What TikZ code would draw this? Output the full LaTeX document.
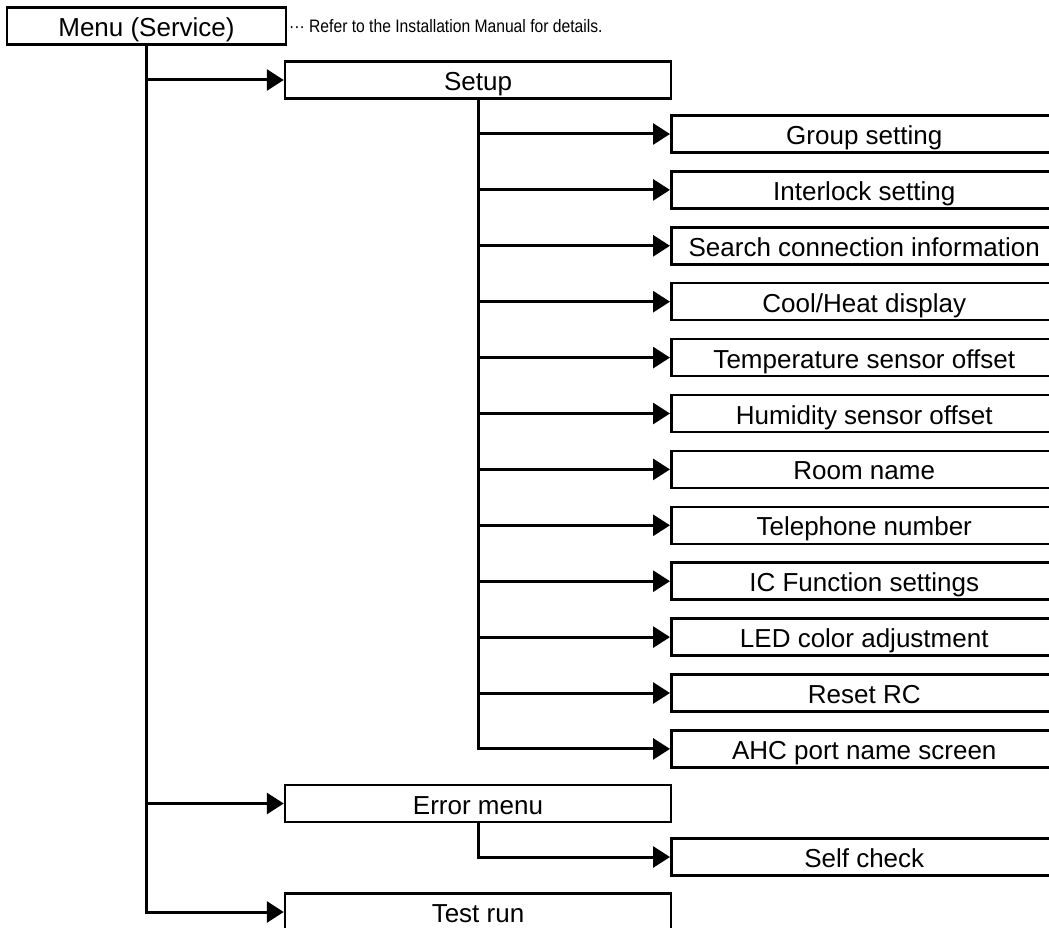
\documentclass[tikz,border=0pt]{standalone}
\usepackage{fontspec}
\setmainfont{Liberation Sans}
\newfontfamily\notefont[FakeStretch=0.87]{Liberation Sans}
\usetikzlibrary{arrows.meta}
\begin{document}
\begin{tikzpicture}[x=1pt,y=-1pt,
  box/.style={draw,line width=2.5pt,minimum height=37pt,inner sep=0pt,text height=21pt,text depth=0pt,
    font=\fontsize{26}{30}\selectfont},
  midbox/.style={box,minimum width=386pt},
  leafbox/.style={box,minimum width=386pt,anchor=west},
  conn/.style={line width=3pt,-{Triangle[length=17pt,width=21pt]}}]
\useasboundingbox (0,0) rectangle (1049,928);
\clip (0,0) rectangle (1049,928);
\node[box,minimum width=279pt] (menu) at (146.5,26) {Menu (Service)};
\node[anchor=base west,inner sep=0pt,font=\notefont\fontsize{18}{20}\selectfont] (note) at (289,33) {··· Refer to the Installation Manual for details.};
\node[midbox] (setup) at (478,80) {Setup};
\node[midbox] (err) at (478,803.5) {Error menu};
\node[midbox] (test) at (478,912) {Test run};
\node[leafbox] (self) at (670,857) {Self check};
\foreach \t [count=\i] in {Group setting,Interlock setting,Search connection information,
  Cool/Heat display,Temperature sensor offset,Humidity sensor offset,Room name,
  Telephone number,IC Function settings,LED color adjustment,Reset RC,AHC port name screen}{
\node[leafbox] (c\i) at (670,{134+55.9*(\i-1)}) {\t};
\draw[conn] (setup.south) |- (c\i.west);}
\draw[conn] (menu.south) |- (setup.west);
\draw[conn] (menu.south) |- (err.west);
\draw[conn] (menu.south) |- (test.west);
\draw[conn] (err.south) |- (self.west);
\end{tikzpicture}
\end{document}
